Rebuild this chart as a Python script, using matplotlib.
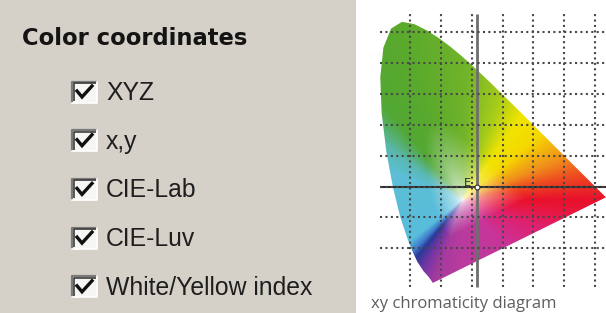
import numpy as np
import matplotlib.pyplot as plt
from matplotlib.patches import Rectangle, Polygon
from matplotlib.colors import to_rgb

# --- data -------------------------------------------------------------
title = "Color coordinates"
options = ["XYZ", "x,y", "CIE-Lab", "CIE-Luv", "White/Yellow index"]
checked = [True, True, True, True, True]
caption = "xy chromaticity diagram"

# spectral locus as drawn (CIE 1931, nm, x, y)
wavelength = [380, 420, 440, 450, 460, 470, 475, 480, 485, 490, 495, 500,
              505, 510, 515, 520, 525, 530, 535, 540, 545, 550, 555, 560,
              565, 570, 575, 580, 585, 590, 595, 600, 610, 620, 630, 640,
              650, 660, 680, 700]
locus_x = [0.1741, 0.1714, 0.1644, 0.1566, 0.1440, 0.1241, 0.1096, 0.0913,
           0.0687, 0.0454, 0.0235, 0.0082, 0.0039, 0.0139, 0.0389, 0.0743,
           0.1142, 0.1547, 0.1929, 0.2296, 0.2658, 0.3016, 0.3373, 0.3731,
           0.4087, 0.4441, 0.4788, 0.5125, 0.5448, 0.5752, 0.6029, 0.6270,
           0.6658, 0.6915, 0.7079, 0.7190, 0.7260, 0.7300, 0.7334, 0.7347]
locus_y = [-0.012, -0.008, 0.0020, 0.0120, 0.0260, 0.0560, 0.0868, 0.1327,
           0.2007, 0.2950, 0.4127, 0.5384, 0.6548, 0.7502, 0.8120, 0.8338,
           0.8262, 0.8059, 0.7816, 0.7543, 0.7243, 0.6923, 0.6589, 0.6245,
           0.5896, 0.5547, 0.5202, 0.4866, 0.4544, 0.4242, 0.3965, 0.3725,
           0.3340, 0.3083, 0.2920, 0.2809, 0.2740, 0.2700, 0.2666, 0.2653]

grid_x = [0.1, 0.2, 0.3, 0.4, 0.5, 0.6, 0.7]
grid_y = [0.1, 0.2, 0.3, 0.4, 0.5, 0.6, 0.7, 0.8]
point_e = (0.318, 0.30)

# hue around the white spot: angle (deg) -> colour, as seen in the picture
hue_angle = [0, 12, 22, 40, 55, 70, 88, 110, 130, 145, 158, 218, 226, 231,
             240, 252, 268, 313, 342, 355]
hue_color = ["#e8102c", "#ee4a20", "#f08c1c", "#f5d800", "#f0e400", "#a8cc1a",
             "#72b42a", "#5aaa2c", "#52a834", "#5ab8b0", "#5cbfd6", "#58bcdc",
             "#3f7ccc", "#2a3a98", "#7036a4", "#a83a9e", "#b83c9e", "#c8349a",
             "#e0206e", "#e8163a"]

# --- figure -----------------------------------------------------------
W, H = 606, 313
fig = plt.figure(figsize=(W / 100, H / 100), dpi=100)
fig.patch.set_facecolor("white")

# left panel in pixel coordinates
ui = fig.add_axes([0, 0, 1, 1])
ui.set_xlim(0, W)
ui.set_ylim(H, 0)
ui.axis("off")
ui.add_patch(Rectangle((0, 0), 356, H, facecolor="#d5d1c9", edgecolor="none"))

ui.text(22, 45, title, fontsize=16.3, fontweight="bold", family="DejaVu Sans",
        color="#141414", va="baseline")

row_y = 92
for label, on in zip(options, checked):
    bx, by, bw, bh = 72, row_y - 10.5, 25, 21
    ui.add_patch(Rectangle((bx, by), bw, bh, facecolor="#f6f6f4", edgecolor="none"))
    ui.plot([bx, bx, bx + bw], [by + bh, by, by], color="#7a7a7a", lw=1.6,
            solid_capstyle="butt")
    ui.plot([bx + 1.5, bx + 1.5, bx + bw - 1.5], [by + bh - 1.5, by + 1.5, by + 1.5],
            color="#3c3c3c", lw=1.2, solid_capstyle="butt")
    ui.plot([bx, bx + bw, bx + bw], [by + bh, by + bh, by], color="#ffffff", lw=1.2)
    if on:
        ui.plot([bx + 5, bx + 10, bx + 20], [row_y - 1, row_y + 5, row_y - 6],
                color="#101010", lw=2.4, solid_joinstyle="miter")
    ui.text(106, row_y + 1, label, fontsize=17.8, family="Liberation Sans",
            color="#1e1e1e", va="center")
    row_y += 48.7

ui.text(371, 308, caption, fontsize=12, family="Open Sans", color="#5e5e5e",
        va="baseline")

# chromaticity diagram axes, placed to match the picture
scale, x0_px, y0_px = 308.7, 379.1, 279.2
left_px = 356
ax = fig.add_axes([left_px / W, 0, (W - left_px) / W, 1])
ax.set_xlim((left_px - x0_px) / scale, (W - x0_px) / scale)
ax.set_ylim((y0_px - H) / scale, y0_px / scale)
ax.axis("off")
ax.patch.set_alpha(0)

lx = np.array(locus_x)
ly = np.array(locus_y)
# close the shape along the line of purples
t = np.linspace(0, 1, 40)[1:-1]
bx_all = np.concatenate([lx, lx[-1] + (lx[0] - lx[-1]) * t])
by_all = np.concatenate([ly, ly[-1] + (ly[0] - ly[-1]) * t])

cx, cy = 0.27, 0.256
b_ang = np.arctan2(by_all - cy, bx_all - cx)
b_rad = np.hypot(bx_all - cx, by_all - cy)
order = np.argsort(b_ang)

gx, gy = np.meshgrid(np.linspace(-0.08, 0.76, 500), np.linspace(-0.12, 0.9, 600))
ang = np.arctan2(gy - cy, gx - cx)
rad = np.hypot(gx - cx, gy - cy)
edge = np.interp(ang, b_ang[order], b_rad[order], period=2 * np.pi)
sat = np.clip(rad / (0.45 * edge), 0, 1) ** 0.55

deg = np.degrees(ang) % 360
anchors = np.array(hue_angle + [360])
rgb_anchor = np.array([to_rgb(c) for c in hue_color + [hue_color[0]]])
img = np.zeros(gx.shape + (3,))
for ch in range(3):
    hue = np.interp(deg, anchors, rgb_anchor[:, ch])
    img[..., ch] = 1 - sat + sat * hue

shape = Polygon(np.column_stack([lx, ly]), closed=True, facecolor="none",
                edgecolor="none", transform=ax.transData)
ax.add_patch(shape)
im = ax.imshow(img, origin="lower", extent=[-0.08, 0.76, -0.12, 0.9],
               interpolation="bilinear", aspect="auto", zorder=1)
im.set_clip_path(shape)

y_top, y_bot = (y0_px - 14) / scale, (y0_px - 287) / scale
x_lft, x_rgt = (380 - x0_px) / scale, 0.76

ax.vlines(point_e[0], y_bot, y_top, colors="#6e6e6e", lw=2.0, zorder=2)
ax.hlines(point_e[1], x_lft, x_rgt, colors="#2e2e2e", lw=1.5, zorder=2)
dots = (0, (1, 1.6))
ax.vlines(grid_x, y_bot, y_top, colors="#484848", lw=1.5, linestyles=[dots], zorder=3)
ax.hlines(grid_y, x_lft, x_rgt, colors="#484848", lw=1.5, linestyles=[dots], zorder=3)

ax.plot(point_e[0], point_e[1], "o", ms=3.5, mfc="white", mec="#333333",
        mew=0.8, zorder=4)
ax.text(point_e[0] - 0.033, point_e[1] + 0.012, "E", fontsize=8,
        color="#2a2a2a", ha="center", va="center", zorder=4)

fig.savefig("out.png", dpi=100)
